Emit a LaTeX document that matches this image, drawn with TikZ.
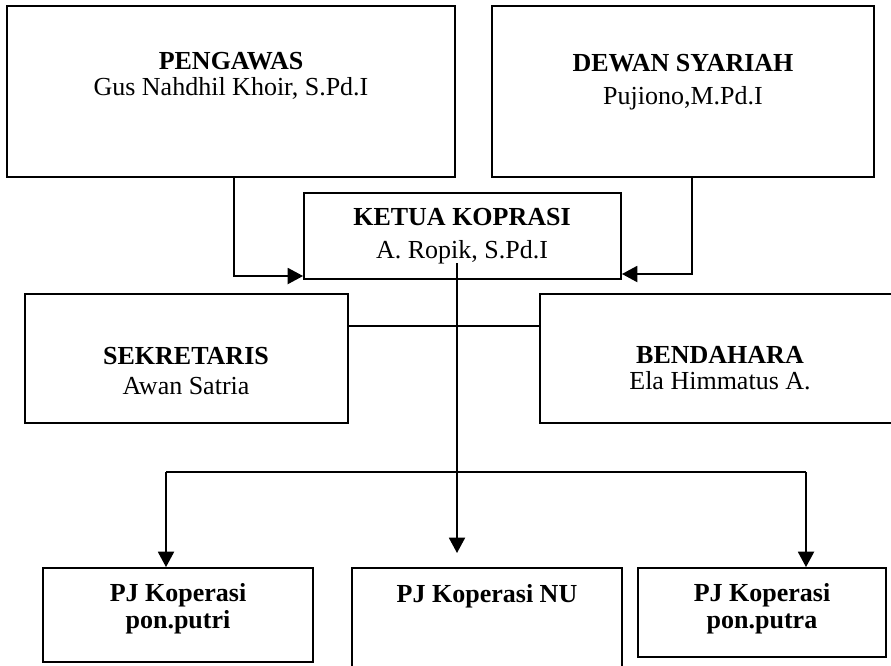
\documentclass[tikz,border=0pt]{standalone}
\usepackage{fontspec}
\setmainfont{Liberation Serif}
\usetikzlibrary{arrows.meta,fit}
\begin{document}
\begin{tikzpicture}[x=0.75pt,y=-0.75pt,
  box/.style={draw, line width=1.4pt, rectangle, inner sep=0pt},
  txt/.style={align=center, inner sep=0pt, font=\fontsize{19.5}{#1}\selectfont},
  txt/.default=22,
  conn/.style={line width=1.4pt},
  arr/.style={conn, -{Triangle[length=11.5pt,width=12pt]}}]
\useasboundingbox (0,0) rectangle (891,665);
% boxes
\node[box, fit={(7,6) (455,177)}] (peng) {};
\node[box, fit={(492,6) (874,177)}] (dewan) {};
\node[box, fit={(304,193) (621,279)}] (ketua) {};
\node[box, fit={(25,294) (348,423)}] (sek) {};
\node[box, fit={(540,294) (900,423)}] (bend) {};
\node[box, fit={(43,568) (313,662)}] (putri) {};
\node[box, fit={(352,568) (622,700)}] (nu) {};
\node[box, fit={(638,568) (886,657)}] (putra) {};
% texts
\node[txt=19.5] (pengT) at (231,76) {\textbf{PENGAWAS}\\Gus Nahdhil Khoir, S.Pd.I};
\node[txt=24.75] (dewanT) at (683,82) {\textbf{DEWAN SYARIAH}\\Pujiono,M.Pd.I};
\node[txt=24.75] (ketuaT) at (462,236) {\textbf{KETUA KOPRASI}\\A. Ropik, S.Pd.I};
\node[txt=22.5] (sekT) at (186,371) {\textbf{SEKRETARIS}\\Awan Satria};
\node[txt=19.5] (bendT) at (720,368) {\textbf{BENDAHARA}\\Ela Himmatus A.};
\node[txt=20.25] (putriT) at (178,609) {\textbf{PJ Koperasi}\\\textbf{pon.putri}};
\node[txt] (nuT) at (487,596) {\textbf{PJ Koperasi NU}};
\node[txt=20.25] (putraT) at (762,609) {\textbf{PJ Koperasi}\\\textbf{pon.putra}};
% connectors
\coordinate (pj) at (234,276);
\draw[arr] (pj |- peng.south) |- (ketua.west |- pj);
\coordinate (dj) at (692,274);
\draw[arr] (dj |- dewan.south) |- (ketua.east |- dj);
\coordinate (sb) at (0,326);
\draw[conn] (sek.east |- sb) -- (bend.west |- sb);
\coordinate (tr) at (457,263);
\coordinate (mt) at (457,553);
\draw[arr] (tr) -- (mt);
\coordinate (lx) at (166,472);
\coordinate (rx) at (806,472);
\draw[conn] (lx) -- (rx);
\draw[arr] (lx) -- (lx |- putri.north);
\draw[arr] (rx) -- (rx |- putra.north);
\end{tikzpicture}
\end{document}
